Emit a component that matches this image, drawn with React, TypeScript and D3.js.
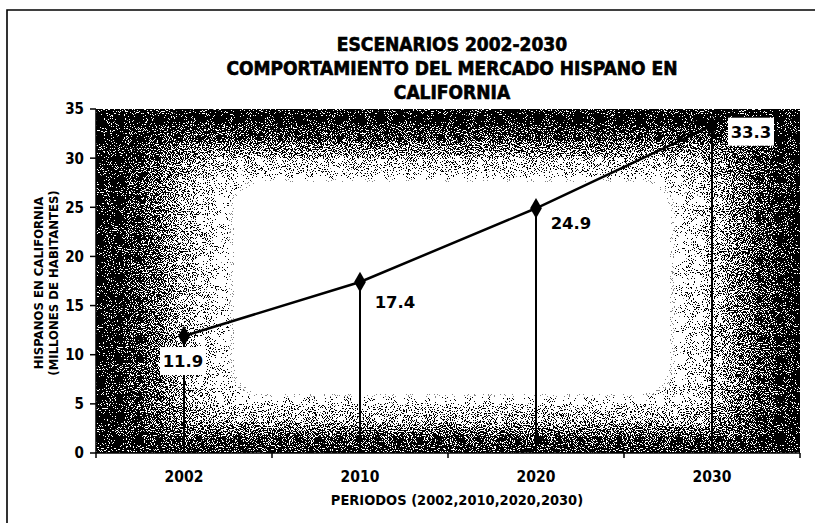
import React from "react";
import * as d3 from "d3";

const categories = ["2002", "2010", "2020", "2030"];
const values = [11.9, 17.4, 24.9, 33.3];
const yTicks = [0, 5, 10, 15, 20, 25, 30, 35];
const titleLines = [
  "ESCENARIOS 2002-2030",
  "COMPORTAMIENTO DEL MERCADO HISPANO EN",
  "CALIFORNIA",
];
const yTitleLines = ["HISPANOS EN CALIFORNIA", "(MILLONES DE HABITANTES)"];
const xTitle = "PERIODOS (2002,2010,2020,2030)";

// label offsets relative to each point (style)
const labelOffsets: [number, number][] = [
  [-1, 25],
  [35, 20],
  [35, 15],
  [39, 6],
];

const W = 815;
const H = 523;
const M = { left: 96, right: 800, top: 109, bottom: 453 };

const condensed = "'DejaVu Sans Condensed', 'DejaVu Sans', sans-serif";

export default function App() {
  const x = d3.scaleBand<string>().domain(categories).range([M.left, M.right]);
  const y = d3.scaleLinear().domain([0, 35]).range([M.bottom, M.top]);
  const cx = (c: string) => (x(c) as number) + x.bandwidth() / 2;

  const pts = categories.map((c, i) => [cx(c), y(values[i])] as [number, number]);
  const line = d3.line()(pts) as string;

  // rectangular "from center" gradient built from nested rects
  const pcx = 452;
  const pcy = 288;
  const hw = (M.right - M.left) / 2;
  const hh = (M.bottom - M.top) / 2;
  const steps = 90;
  const grayAt = (f: number) => {
    const t = Math.max(0, Math.min(1, (f - 0.6) / 0.42));
    return 0.06 + 0.94 * (1 - t * t * (3 - 2 * t));
  };
  const rings = d3.range(steps).map((i) => {
    const f = 1.3 - (i / steps) * 1.3;
    return { f, g: grayAt(f) };
  });

  const boundaries = [M.left, ...categories.map((c) => (x(c) as number) + x.bandwidth())];

  return (
    <svg width={W} height={H} style={{ display: "block", position: "absolute", left: 0, top: 0 }}>
      <defs>
        <clipPath id="plotClip">
          <rect x={M.left} y={M.top} width={M.right - M.left} height={M.bottom - M.top} />
        </clipPath>
        <filter
          id="dither"
          filterUnits="userSpaceOnUse"
          x={M.left}
          y={M.top}
          width={M.right - M.left}
          height={M.bottom - M.top}
          colorInterpolationFilters="sRGB"
        >
          <feTurbulence type="fractalNoise" baseFrequency="0.95" numOctaves="2" seed="7" result="t" />
          <feColorMatrix
            in="t"
            type="matrix"
            values="1 0 0 0 0  1 0 0 0 0  1 0 0 0 0  0 0 0 0 1"
            result="n0"
          />
          <feComponentTransfer in="n0" result="n1">
            <feFuncR type="linear" slope="3.2" intercept="-1.1" />
            <feFuncG type="linear" slope="3.2" intercept="-1.1" />
            <feFuncB type="linear" slope="3.2" intercept="-1.1" />
          </feComponentTransfer>
          <feComponentTransfer in="n1" result="n">
            <feFuncR type="linear" slope="0.97" intercept="0.025" />
            <feFuncG type="linear" slope="0.97" intercept="0.025" />
            <feFuncB type="linear" slope="0.97" intercept="0.025" />
          </feComponentTransfer>
          <feComposite in="SourceGraphic" in2="n" operator="arithmetic" k1="0" k2="0.5" k3="-0.5" k4="1" result="d" />
          <feComponentTransfer in="d">
            <feFuncR type="linear" slope="120" intercept="-119" />
            <feFuncG type="linear" slope="120" intercept="-119" />
            <feFuncB type="linear" slope="120" intercept="-119" />
            <feFuncA type="linear" slope="0" intercept="1" />
          </feComponentTransfer>
        </filter>
      </defs>

      {/* outer frame */}
      <path d={`M7,${H} V10 H${W}`} fill="none" stroke="#000" strokeWidth={1.6} />

      {/* title */}
      <g
        fontFamily={condensed}
        fontWeight="bold"
        fontSize={19}
        textAnchor="middle"
        fill="#000"
        stroke="#000"
        strokeWidth={0.6}
      >
        {titleLines.map((t, i) => (
          <text key={i} x={452} y={51 + i * 24}>
            {t}
          </text>
        ))}
      </g>

      {/* plot background */}
      <g clipPath="url(#plotClip)">
        <g filter="url(#dither)">
          {rings.map((r, i) => (
            <rect
              key={i}
              x={pcx - r.f * hw}
              y={pcy - r.f * hh}
              width={2 * r.f * hw}
              height={2 * r.f * hh}
              rx={r.f * hh * 0.3}
              ry={r.f * hh * 0.3}
              fill={d3.rgb(r.g * 255, r.g * 255, r.g * 255).toString()}
            />
          ))}
        </g>
      </g>

      {/* y axis ticks & labels */}
      <g>
        {yTicks.map((t) => (
          <g key={t}>
            <line x1={M.left - 6} x2={M.left} y1={y(t)} y2={y(t)} stroke="#000" strokeWidth={1.5} />
            <text
              x={84}
              y={y(t)}
              dy="0.36em"
              textAnchor="end"
              fontFamily={condensed}
              fontWeight="bold"
              fontSize={15}
            >
              {t}
            </text>
          </g>
        ))}
        <line x1={M.left} x2={M.left} y1={M.top} y2={M.bottom} stroke="#000" strokeWidth={1.5} />
      </g>

      {/* x axis */}
      <g>
        <line x1={M.left} x2={M.right} y1={M.bottom} y2={M.bottom} stroke="#000" strokeWidth={1.5} />
        {boundaries.map((b, i) => (
          <line key={i} x1={b} x2={b} y1={M.bottom} y2={M.bottom + 5} stroke="#000" strokeWidth={1.5} />
        ))}
        {categories.map((c) => (
          <text
            key={c}
            x={cx(c)}
            y={482}
            textAnchor="middle"
            fontFamily={condensed}
            fontWeight="bold"
            fontSize={15.5}
          >
            {c}
          </text>
        ))}
        <text x={457} y={505} textAnchor="middle" fontFamily={condensed} fontWeight="bold" fontSize={14.5}>
          {xTitle}
        </text>
      </g>

      {/* y title */}
      <g fontFamily={condensed} fontWeight="bold" fontSize={13} textAnchor="middle">
        {yTitleLines.map((t, i) => (
          <text key={i} transform={`translate(${43 + i * 15},${283}) rotate(-90)`}>
            {t}
          </text>
        ))}
      </g>

      {/* drop lines */}
      {pts.map(([px, py], i) => (
        <line key={i} x1={px} x2={px} y1={py} y2={M.bottom} stroke="#000" strokeWidth={2} />
      ))}

      {/* series line */}
      <path d={line} fill="none" stroke="#000" strokeWidth={2.5} />

      {/* markers */}
      {pts.map(([px, py], i) => (
        <path key={i} d={d3.symbol(d3.symbolDiamond, 120)() as string} transform={`translate(${px},${py})`} fill="#000" />
      ))}

      {/* data labels */}
      {pts.map(([px, py], i) => {
        const lx = px + labelOffsets[i][0];
        const ly = py + labelOffsets[i][1];
        return (
          <g key={i}>
            <rect x={lx - 23} y={ly - 14} width={46} height={28} fill="#fff" />
            <text
              x={lx}
              y={ly}
              dy="0.36em"
              textAnchor="middle"
              fontFamily="'DejaVu Sans', Verdana, sans-serif"
              fontWeight="bold"
              fontSize={16.5}
            >
              {values[i].toFixed(1)}
            </text>
          </g>
        );
      })}
    </svg>
  );
}
